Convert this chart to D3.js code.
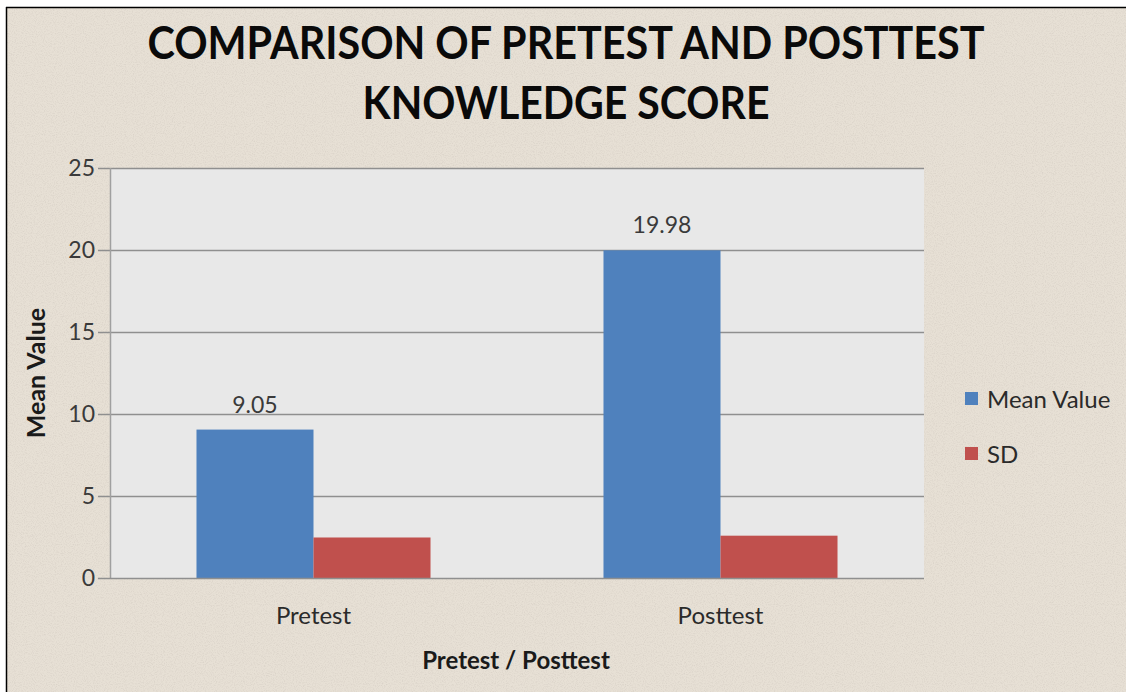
<!DOCTYPE html>
<html><head><meta charset="utf-8">
<script src="https://cdn.jsdelivr.net/npm/d3@7"></script>
<style>html,body{margin:0;padding:0;background:#fff;}svg{display:block;}</style>
</head><body>
<svg id="c" width="1126" height="692"></svg>
<script>
const categories = ["Pretest", "Posttest"];
const seriesNames = ["Mean Value", "SD"];
const meanValues = [9.05, 19.98];
const sdValues = [2.47, 2.58];
const yTicks = [0, 5, 10, 15, 20, 25];
const colors = ["#4F81BD", "#C0504D"];
const titleLines = ["COMPARISON OF PRETEST AND POSTTEST", "KNOWLEDGE SCORE"];

const svg = d3.select("#c");
const font = "Lato, 'Open Sans', sans-serif";

// background
svg.append("rect").attr("x",0).attr("y",0).attr("width",1126).attr("height",692).attr("fill","#fff");
svg.append("rect").attr("x",6).attr("y",7).attr("width",1120).attr("height",685).attr("fill","#e7e0d5");
const defs = svg.append("defs");
const f = defs.append("filter").attr("id","noise").attr("x",0).attr("y",0).attr("width","100%").attr("height","100%");
f.append("feTurbulence").attr("type","fractalNoise").attr("baseFrequency",0.9).attr("numOctaves",2).attr("seed",3).attr("result","n");
f.append("feColorMatrix").attr("type","matrix").attr("values","0 0 0 0 0.55  0 0 0 0 0.5  0 0 0 0 0.45  0 0 0 -2.2 1.25");
svg.append("rect").attr("x",6).attr("y",7).attr("width",1120).attr("height",685).attr("filter","url(#noise)").attr("opacity",0.35);
svg.append("line").attr("x1",6.5).attr("x2",6.5).attr("y1",7).attr("y2",692).attr("stroke","#000").attr("stroke-width",1.5);
svg.append("line").attr("x1",6).attr("x2",1126).attr("y1",7.5).attr("y2",7.5).attr("stroke","#000").attr("stroke-width",1.5);

const L = 110, R = 924, T = 168, B = 578;
const x0 = d3.scaleBand().domain(categories).range([L, R]).paddingInner(0.425).paddingOuter(0.2125);
const x1 = d3.scaleBand().domain(seriesNames).range([0, x0.bandwidth()]);
const y = d3.scaleLinear().domain([0, 25]).range([B, T]);

svg.append("rect").attr("x",L).attr("y",T).attr("width",R-L).attr("height",B-T).attr("fill","#e8e8e8");

svg.append("g").selectAll("line").data(yTicks.filter(d=>d>0)).join("line")
  .attr("x1",L-12).attr("x2",R).attr("y1",d=>Math.round(y(d))+0.5).attr("y2",d=>Math.round(y(d))+0.5)
  .attr("stroke","#8f8f8f").attr("stroke-width",1.5);
svg.append("line").attr("x1",L+0.5).attr("x2",L+0.5).attr("y1",T).attr("y2",B).attr("stroke","#a0a0a0").attr("stroke-width",1.5);

const yAxis = d3.axisLeft(y).tickValues(yTicks).tickSize(0).tickPadding(15);
const gy = svg.append("g").attr("transform",`translate(${L},0)`).call(yAxis);
gy.select(".domain").remove();
gy.selectAll("text").attr("font-family",font).attr("font-size",23).attr("fill","#3a3a3a");

const data = categories.map((c,i)=>({cat:c, vals:[meanValues[i], sdValues[i]]}));
const groups = svg.append("g").selectAll("g").data(data).join("g").attr("transform",d=>`translate(${x0(d.cat)},0)`);
groups.selectAll("rect").data(d=>d.vals.map((v,j)=>({v, s:seriesNames[j], j}))).join("rect")
  .attr("x",d=>x1(d.s)).attr("width",x1.bandwidth()).attr("y",d=>y(d.v)).attr("height",d=>y(0)-y(d.v))
  .attr("fill",d=>colors[d.j]);
groups.append("text").attr("x",x1("Mean Value")+x1.bandwidth()/2).attr("y",d=>y(d.vals[0])-17)
  .attr("text-anchor","middle").attr("font-family",font).attr("font-size",23).attr("fill","#3a3a3a")
  .text(d=>d.vals[0].toFixed(2));

svg.append("line").attr("x1",L-12).attr("x2",R).attr("y1",B+0.5).attr("y2",B+0.5).attr("stroke","#8f8f8f").attr("stroke-width",1.5);

const xAxis = d3.axisBottom(x0).tickSize(0).tickPadding(29);
const gx = svg.append("g").attr("transform",`translate(0,${B})`).call(xAxis);
gx.select(".domain").remove();
gx.selectAll("text").attr("font-family",font).attr("font-size",24).attr("fill","#2a2a2a");

svg.append("text").attr("x",516).attr("y",669).attr("text-anchor","middle").attr("font-family",font)
  .attr("font-weight","bold").attr("font-size",24).attr("fill","#1a1a1a").text("Pretest / Posttest");
svg.append("text").attr("transform","translate(45,373) rotate(-90)").attr("text-anchor","middle").attr("font-family",font)
  .attr("font-weight","bold").attr("font-size",25).attr("fill","#1a1a1a").text("Mean Value");

const titleWidths = [837, 407];
svg.append("g").selectAll("text").data(titleLines).join("text")
  .attr("x",566).attr("y",(d,i)=>59+i*60).attr("text-anchor","middle").attr("font-family",font)
  .attr("font-weight","bold").attr("font-size",45).attr("fill","#0a0a0a")
  .attr("textLength",(d,i)=>titleWidths[i]).attr("lengthAdjust","spacingAndGlyphs").text(d=>d);

const lg = svg.append("g").selectAll("g").data(seriesNames).join("g").attr("transform",(d,i)=>`translate(965,${392+i*55})`);
lg.append("rect").attr("x",0).attr("y",0).attr("width",13).attr("height",13).attr("fill",(d,i)=>colors[i]);
lg.append("text").attr("x",22).attr("y",16).attr("font-family",font).attr("font-size",24).attr("fill","#2a2a2a").text(d=>d);
</script>
</body></html>
